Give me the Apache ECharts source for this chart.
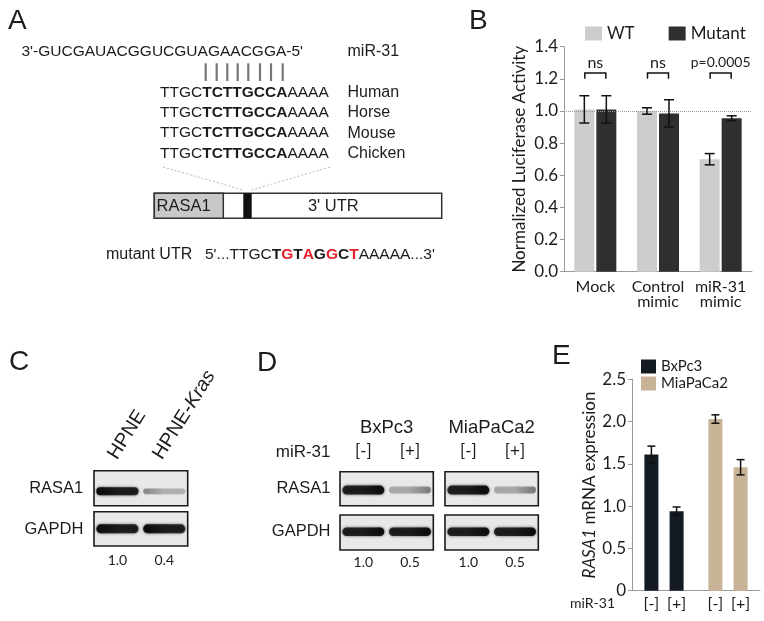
<!DOCTYPE html>
<html><head><meta charset="utf-8">
<script src="https://cdn.jsdelivr.net/npm/echarts@6/dist/echarts.min.js"></script>
<style>html,body{margin:0;padding:0;background:#fff}#c{width:764px;height:621px}</style>
</head><body><div id="c"></div>
<script>
// ---------- Panel B data ----------
const bCategories = ['Mock', 'Control\nmimic', 'miR-31\nmimic'];
const bSeriesNames = ['WT', 'Mutant'];
const bWT = [1.01, 1.00, 0.70];
const bWTErr = [0.085, 0.02, 0.035];
const bMutant = [1.01, 0.985, 0.955];
const bMutantErr = [0.085, 0.085, 0.015];
const bSignif = ['ns', 'ns', 'p=0.0005'];
const bReference = 1.0;
// ---------- Panel E data ----------
const eGroups = ['BxPc3', 'MiaPaCa2'];
const eTreatments = ['[-]', '[+]'];
const eMinus = [1.61, 2.03];
const eMinusErr = [0.10, 0.05];
const ePlus = [0.94, 1.46];
const ePlusErr = [0.05, 0.09];
// ---------- Panel A text ----------
const mir31Seq = "3'-GUCGAUACGGUCGUAGAACGGA-5'";
const species = ['Human', 'Horse', 'Mouse', 'Chicken'];
const siteParts = ['TTGC', 'TCTTGCCA', 'AAAA'];
// ---------- Panel C / D blots ----------
const cLanes = ['HPNE', 'HPNE-Kras'];
const cRasa1 = [1.0, 0.4];
const dLines = ['BxPc3', 'MiaPaCa2'];
const dRasa1 = [[1.0, 0.5], [1.0, 0.5]];

const FM = 'Lato, "Open Sans", sans-serif';
const FA = '"Liberation Sans", Arial, sans-serif';
const DARK = '#1c1c1c';
const eColors = ['#131a21', '#c8b396'];

const chart = echarts.init(document.getElementById('c'));

function T(x, y, text, o) {
  return {type: 'text', x: x, y: y, z: 100,
    style: Object.assign({text: text, fill: DARK, fontFamily: FA, fontSize: 15.5, align: 'left', verticalAlign: 'middle'}, o || {})};
}
const g = [];
// Panel letters
g.push(T(8, 21, 'A', {fontSize: 28}));
g.push(T(469, 21, 'B', {fontSize: 28}));
g.push(T(9, 362, 'C', {fontSize: 28}));
g.push(T(257, 363, 'D', {fontSize: 28}));
g.push(T(552, 356, 'E', {fontSize: 28}));

// Panel A
g.push(T(21.5, 51.7, mir31Seq));
g.push(T(347.5, 51.7, 'miR-31', {fontSize: 16}));
[205.7, 216.7, 227.3, 237.7, 248.3, 260, 271, 282.7].forEach(function (x) {
  g.push({type: 'line', shape: {x1: x, y1: 63.3, x2: x, y2: 81}, style: {stroke: '#777', lineWidth: 2.2}});
});
const seqRich = {
  n: {fontFamily: FA, fontSize: 15.5, fill: DARK},
  b: {fontFamily: FA, fontSize: 15.5, fill: DARK, fontWeight: 'bold'},
  r: {fontFamily: FA, fontSize: 15.5, fill: '#e3202a', fontWeight: 'bold'}
};
species.forEach(function (s, i) {
  const y = 92.7 + i * 20.2;
  g.push(T(160, y, '{n|' + siteParts[0] + '}{b|' + siteParts[1] + '}{n|' + siteParts[2] + '}', {rich: seqRich}));
  g.push(T(347.5, y, s, {fontSize: 16}));
});
g.push({type: 'line', shape: {x1: 163, y1: 167, x2: 243.3, y2: 190}, style: {stroke: '#b8b8b8', lineWidth: 1, lineDash: [2, 2]}});
g.push({type: 'line', shape: {x1: 330, y1: 167, x2: 251.7, y2: 190}, style: {stroke: '#b8b8b8', lineWidth: 1, lineDash: [2, 2]}});
g.push({type: 'rect', shape: {x: 154.3, y: 193.3, width: 287.4, height: 25}, style: {fill: '#fff', stroke: '#333', lineWidth: 1.5}});
g.push({type: 'rect', shape: {x: 154.3, y: 193.3, width: 69, height: 25}, style: {fill: '#c8c8c8', stroke: '#333', lineWidth: 1.5}});
g.push({type: 'rect', shape: {x: 243.3, y: 193.3, width: 8.4, height: 25}, style: {fill: '#111'}});
g.push(T(156.5, 206, 'RASA1', {fontSize: 16.5}));
g.push(T(333.3, 206, "3' UTR", {fontSize: 16.5, align: 'center'}));
g.push(T(106, 255, 'mutant UTR', {fontSize: 16}));
g.push(T(205, 255, "{n|5'...TTGC}{b|T}{r|G}{b|T}{r|A}{b|G}{r|G}{b|C}{r|T}{n|AAAAA...3'}", {rich: seqRich}));

// Blot helpers
function box(x, y, w, h) {
  return {type: 'rect', shape: {x: x, y: y, width: w, height: h}, style: {fill: '#e8e8e8', stroke: '#1a1a1a', lineWidth: 1.6}};
}
// heavy: which end of the band is darkest (0 = left, 1 = right)
function bands(x, y, w, h, vals, cyFrac, thick, heavy) {
  const out = [];
  vals.forEach(function (v, i) {
    const cx = x + w * (0.25 + 0.5 * i), bw = w * 0.45, cy = y + h * cyFrac;
    const t = thick * (0.55 + 0.45 * v);
    const aHi = v >= 0.9 ? 0.97 : 0.2 + 0.5 * v;
    const aLo = v >= 0.9 ? 0.8 : 0.1 + 0.3 * v;
    const stops = [{offset: 0, color: 'rgba(10,10,10,' + (heavy ? aLo : aHi) + ')'},
      {offset: 0.5, color: 'rgba(10,10,10,' + aLo + ')'},
      {offset: 1, color: 'rgba(10,10,10,' + (heavy ? aHi : aLo) + ')'}];
    out.push({type: 'rect', shape: {x: cx - bw / 2, y: cy - t / 2, width: bw, height: t, r: t / 2},
      style: {fill: new echarts.graphic.LinearGradient(0, 0, 1, 0, stops), shadowBlur: 3, shadowColor: 'rgba(10,10,10,' + aLo + ')'}});
  });
  return out;
}
// Panel C
const rot = 58 * Math.PI / 180;
g.push(T(121, 463, cLanes[0], {fontSize: 19.5, verticalAlign: 'bottom', align: 'left'}));
g[g.length - 1].rotation = rot;
g.push(T(166, 463, 'HPNE-{i|Kras}', {fontSize: 19.5, verticalAlign: 'bottom', align: 'left',
  rich: {i: {fontFamily: FA, fontSize: 19.5, fontStyle: 'italic', fill: DARK}}}));
g[g.length - 1].rotation = rot;
g.push(box(94, 470.7, 93.7, 35));
bands(94, 470.7, 93.7, 35, cRasa1, 0.59, 8, 0).forEach(function (e) { g.push(e); });
g.push(box(94, 511.7, 93.7, 34.3));
bands(94, 511.7, 93.7, 34.3, [1, 1], 0.5, 9, 0).forEach(function (e) { g.push(e); });
g.push(T(83.3, 488.3, 'RASA1', {fontSize: 16.5, align: 'right'}));
g.push(T(83.3, 529, 'GAPDH', {fontSize: 16.5, align: 'right'}));
cRasa1.forEach(function (v, i) {
  g.push(T(94 + 93.7 * (0.25 + 0.5 * i), 560, v.toFixed(1), {fontFamily: FM, fontSize: 14, align: 'center'}));
});

// Panel D
g.push(T(330.5, 452, 'miR-31', {fontSize: 17, align: 'right'}));
g.push(T(330.5, 488.3, 'RASA1', {fontSize: 16.5, align: 'right'}));
g.push(T(330.5, 531.7, 'GAPDH', {fontSize: 16.5, align: 'right'}));
dLines.forEach(function (name, k) {
  const bx = 340 + 105 * k, bw = 93.3;
  g.push(T(bx + bw / 2, 428.3, name, {fontSize: 18.5, align: 'center'}));
  g.push(box(bx, 471.7, bw, 34));
  bands(bx, 471.7, bw, 34, dRasa1[k], 0.54, 9, 1).forEach(function (e) { g.push(e); });
  g.push(box(bx, 515, bw, 35));
  bands(bx, 515, bw, 35, [1, 1], 0.48, 8.5, 1).forEach(function (e) { g.push(e); });
  dRasa1[k].forEach(function (v, i) {
    const cx = bx + bw * (0.25 + 0.5 * i);
    g.push(T(cx, 452, eTreatments[i], {fontFamily: FM, fontSize: 17, align: 'center'}));
    g.push(T(cx, 562, v.toFixed(1), {fontFamily: FM, fontSize: 14, align: 'center'}));
  });
});
// Panel E "miR-31"
g.push(T(615, 603, 'miR-31', {fontFamily: FM, fontSize: 14, align: 'right'}));

// Error-bar renderer
function errRender(offset, cap) {
  return function (params, api) {
    const i = api.value(0);
    const lo = api.coord([i, api.value(1)]);
    const hi = api.coord([i, api.value(2)]);
    const x = lo[0] + offset;
    const st = {stroke: '#111', lineWidth: 1.5};
    return {type: 'group', children: [
      {type: 'line', shape: {x1: x, y1: lo[1], x2: x, y2: hi[1]}, style: st},
      {type: 'line', shape: {x1: x - cap, y1: lo[1], x2: x + cap, y2: lo[1]}, style: st},
      {type: 'line', shape: {x1: x - cap, y1: hi[1], x2: x + cap, y2: hi[1]}, style: st}
    ]};
  };
}
function errData(vals, errs) { return vals.map(function (v, i) { return [i, v - errs[i], v + errs[i]]; }); }

const option = {
  animation: false,
  backgroundColor: '#fff',
  textStyle: {fontFamily: FM},
  legend: [
    {data: bSeriesNames, left: 585, top: 25, padding: 0, icon: 'rect', itemWidth: 17, itemHeight: 14, itemGap: 34,
      textStyle: {fontSize: 17, color: DARK, fontFamily: FM}},
    {data: eGroups, left: 641, top: 359, padding: 0, orient: 'vertical', icon: 'rect', itemWidth: 15, itemHeight: 14, itemGap: 2,
      textStyle: {fontSize: 15, color: DARK, fontFamily: FM}}
  ],
  grid: [
    {left: 564, top: 46.7, width: 188, height: 225},
    {left: 632, top: 379.3, width: 128, height: 211.4}
  ],
  xAxis: [
    {gridIndex: 0, type: 'category', data: bCategories,
      axisLine: {lineStyle: {color: '#9a9a9a'}}, axisTick: {show: false},
      axisLabel: {fontSize: 16, color: DARK, lineHeight: 15, margin: 8, interval: 0, fontFamily: FM}},
    {gridIndex: 1, type: 'category', data: eGroups,
      axisLine: {lineStyle: {color: '#9a9a9a'}}, axisTick: {show: false}, axisLabel: {show: false}}
  ],
  yAxis: [
    {gridIndex: 0, type: 'value', min: 0, max: 1.4, interval: 0.2,
      axisLine: {show: true, lineStyle: {color: '#9a9a9a'}}, axisTick: {show: true, length: 4, lineStyle: {color: '#9a9a9a'}},
      splitLine: {show: false},
      axisLabel: {fontSize: 17, color: DARK, margin: 6, fontFamily: FM, formatter: function (v) { return v.toFixed(1); }},
      name: 'Normalized Luciferase Activity', nameLocation: 'middle', nameGap: 36,
      nameTextStyle: {fontSize: 17, color: DARK, fontFamily: FM}},
    {gridIndex: 1, type: 'value', min: 0, max: 2.5, interval: 0.5,
      axisLine: {show: true, lineStyle: {color: '#9a9a9a'}}, axisTick: {show: true, length: 4, lineStyle: {color: '#9a9a9a'}},
      splitLine: {show: false},
      axisLabel: {fontSize: 17, color: DARK, margin: 6, fontFamily: FM, formatter: function (v) { return v === 0 ? '0' : v.toFixed(1); }},
      name: '{i|RASA1} mRNA expression', nameLocation: 'middle', nameGap: 21,
      nameTextStyle: {fontSize: 17, color: DARK, fontFamily: FM,
        rich: {i: {fontSize: 17, color: DARK, fontFamily: FM, fontStyle: 'italic'}}}}
  ],
  series: [
    {name: bSeriesNames[0], type: 'bar', xAxisIndex: 0, yAxisIndex: 0, data: bWT, barWidth: 20, barGap: '10%',
      itemStyle: {color: '#cdcdcd'},
      markLine: {silent: true, symbol: 'none', label: {show: false}, lineStyle: {type: 'dotted', color: '#999', width: 1},
        data: [{yAxis: bReference}]}},
    {name: bSeriesNames[1], type: 'bar', xAxisIndex: 0, yAxisIndex: 0, data: bMutant, barWidth: 20, barGap: '10%',
      itemStyle: {color: '#2f2f2f'}},
    {type: 'custom', xAxisIndex: 0, yAxisIndex: 0, z: 10, data: errData(bWT, bWTErr), renderItem: errRender(-11, 5)},
    {type: 'custom', xAxisIndex: 0, yAxisIndex: 0, z: 10, data: errData(bMutant, bMutantErr), renderItem: errRender(11, 5)},
    {type: 'custom', xAxisIndex: 0, yAxisIndex: 0, z: 10, data: bSignif.map(function (s, i) { return [i, 1.22]; }),
      renderItem: function (params, api) {
        const i = api.value(0);
        const top = api.coord([i, 1.237]), leg = api.coord([i, 1.20]), txt = api.coord([i, 1.30]);
        const x1 = top[0] - 10.5, x2 = top[0] + 10.5;
        const s = bSignif[i];
        return {type: 'group', children: [
          {type: 'polyline', shape: {points: [[x1, leg[1]], [x1, top[1]], [x2, top[1]], [x2, leg[1]]]},
            style: {stroke: '#111', lineWidth: 1.5, fill: null}},
          {type: 'text', x: top[0], y: txt[1], style: {text: s, fill: DARK, fontFamily: FM,
            fontSize: s === 'ns' ? 16 : 14, align: 'center', verticalAlign: 'middle'}}
        ]};
      }},
    {name: eTreatments[0], type: 'bar', xAxisIndex: 1, yAxisIndex: 1, data: eMinus, barWidth: 14, barGap: '80%',
      itemStyle: {color: function (p) { return eColors[p.dataIndex]; }},
      label: {show: true, position: 'bottom', distance: 5, formatter: '{a}', fontSize: 16, color: DARK, fontFamily: FM}},
    {name: eTreatments[1], type: 'bar', xAxisIndex: 1, yAxisIndex: 1, data: ePlus, barWidth: 14, barGap: '80%',
      itemStyle: {color: function (p) { return eColors[p.dataIndex]; }},
      label: {show: true, position: 'bottom', distance: 5, formatter: '{a}', fontSize: 16, color: DARK, fontFamily: FM}},
    {type: 'custom', xAxisIndex: 1, yAxisIndex: 1, z: 10, data: errData(eMinus, eMinusErr), renderItem: errRender(-12.6, 4)},
    {type: 'custom', xAxisIndex: 1, yAxisIndex: 1, z: 10, data: errData(ePlus, ePlusErr), renderItem: errRender(12.6, 4)},
    {name: eGroups[0], type: 'line', xAxisIndex: 1, yAxisIndex: 1, data: [], itemStyle: {color: eColors[0]}, lineStyle: {color: eColors[0]}},
    {name: eGroups[1], type: 'line', xAxisIndex: 1, yAxisIndex: 1, data: [], itemStyle: {color: eColors[1]}, lineStyle: {color: eColors[1]}}
  ],
  graphic: g
};
chart.setOption(option);
</script>
</body></html>
